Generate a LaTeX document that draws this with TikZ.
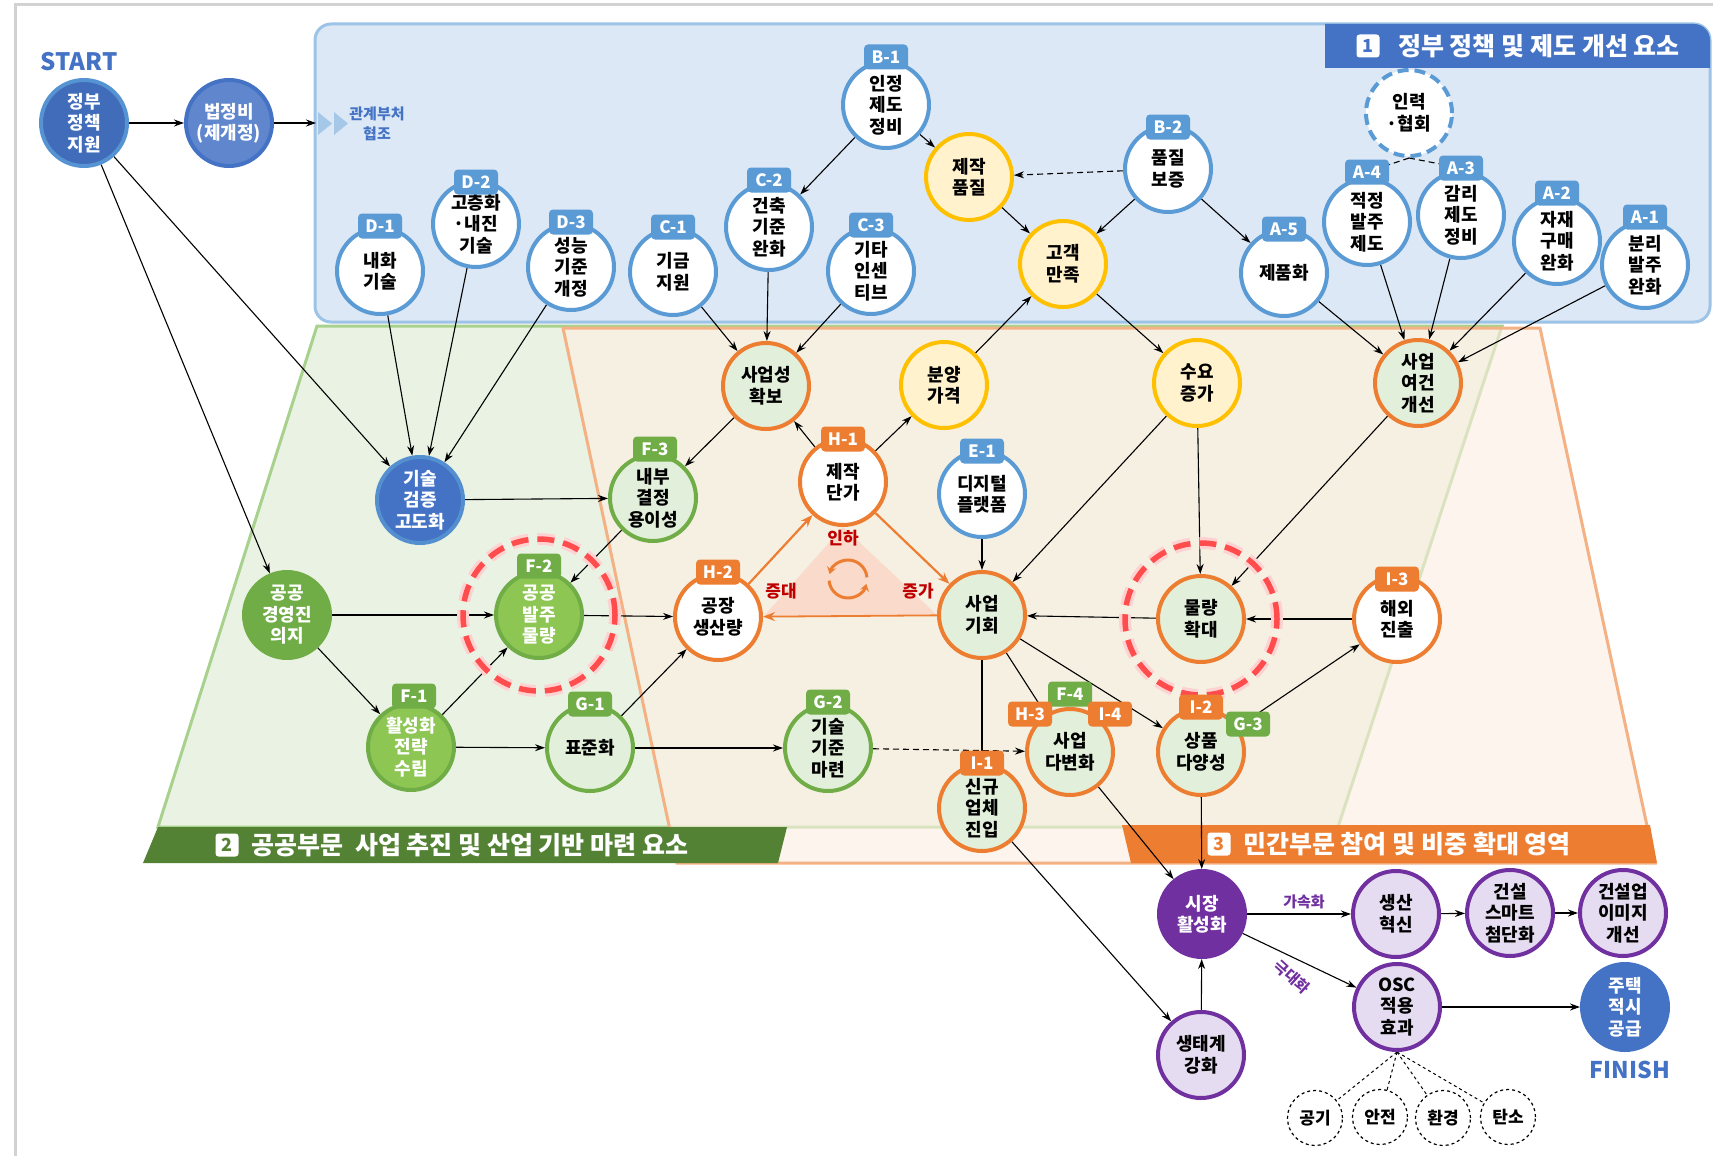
\documentclass[tikz,border=0pt]{standalone}
\usepackage{fontspec}
\setmainfont{Noto Sans CJK KR}
\usetikzlibrary{arrows.meta}
\pgfdeclarelayer{bg}
\pgfdeclarelayer{edges}
\pgfsetlayers{bg,edges,main}
\definecolor{cB}{HTML}{5B9BD5}
\definecolor{cBd}{HTML}{4472C4}
\definecolor{cBg}{HTML}{DCE8F5}
\definecolor{cBl}{HTML}{9DC3E6}
\definecolor{cG}{HTML}{70AD47}
\definecolor{cGd}{HTML}{548235}
\definecolor{cGl}{HTML}{8DC653}
\definecolor{cLG}{HTML}{E2EFDA}
\definecolor{cGbg}{HTML}{EAF3E3}
\definecolor{cGline}{HTML}{A9D18E}
\definecolor{cO}{HTML}{ED7D31}
\definecolor{cObg}{HTML}{FDEEE2}
\definecolor{cOline}{HTML}{F4B183}
\definecolor{cY}{HTML}{FFC000}
\definecolor{cLY}{HTML}{FFF2CC}
\definecolor{cP}{HTML}{7030A0}
\definecolor{cLP}{HTML}{E6DCF1}
\definecolor{cR}{HTML}{FF4D4D}
\definecolor{cRed}{HTML}{C00000}
\definecolor{cPink}{HTML}{FADACA}
\begin{document}
\begin{tikzpicture}[x=1pt,y=-1pt,
  nd/.style={circle,minimum size=86pt,inner sep=0pt,align=center,line width=4pt,font=\fontsize{18}{21.5}\selectfont\bfseries,text=black},
  bnode/.style={nd,draw=cB,fill=white},
  onode/.style={nd,draw=cO,fill=cLG},
  ownode/.style={nd,draw=cO,fill=white},
  gnode/.style={nd,draw=cG,fill=cLG},
  gsolid/.style={nd,draw=cG,fill=cGl,text=white},
  ynode/.style={nd,draw=cY,fill=cLY},
  pnode/.style={nd,draw=cP,fill=cLP},
  tabbox/.style={rounded corners=4pt,minimum width=44pt,minimum height=25pt,inner sep=1pt,text=white,font=\fontsize{17}{17}\selectfont\bfseries},
  btab/.style={tabbox,fill=cB}, otab/.style={tabbox,fill=cO}, gtab/.style={tabbox,fill=cG},
  arr/.style={-{Stealth[length=10pt,width=7pt]},line width=1.1pt},
  oarr/.style={-{Stealth[length=12pt,width=9pt]},line width=2.2pt,draw=cO},
  smallc/.style={circle,draw,dashed,line width=1.2pt,minimum size=55pt,inner sep=0pt,fill=white,font=\fontsize{17}{20}\selectfont\bfseries},
  hlc/.style={circle,draw=cR,line width=5.5pt,dash pattern=on 17pt off 9pt,minimum size=152pt},
  badge/.style={fill=white,rounded corners=3pt,minimum size=23pt,inner sep=0pt,font=\fontsize{18}{18}\selectfont\bfseries},
  ttl/.style={text=white,font=\fontsize{25}{25}\selectfont\bfseries,inner sep=0pt}
]
\useasboundingbox (0,0) rectangle (1713,1156);
\begin{pgfonlayer}{bg}
\fill[white] (0,0) rectangle (1713,1156);
\draw[gray!35,line width=3pt] (15,1156) -- (15,5) -- (1713,5);
\draw[fill=cBg,draw=cBl,line width=3pt,rounded corners=16pt] (315,24) rectangle (1710,322);
\fill[cBd] (1325,24) -- (1694,24) arc[start angle=-90,end angle=0,radius=16] -- (1710,68) -- (1325,68) -- cycle;
\draw[fill=cGbg,draw=cGline,line width=3pt] (317,326) -- (1502,326) -- (1338,827) -- (158,827) -- cycle;
\draw[fill=cObg,fill opacity=0.6,draw=cOline,line width=3pt] (563,328) -- (1540,328) -- (1655,863) -- (677,863) -- cycle;
\fill[cGd] (158,827) -- (787,827) -- (778,863) -- (143,863) -- cycle;
\fill[cO] (1122,825) -- (1650,825) -- (1657,863) -- (1131,863) -- cycle;
\fill[cB!55] (318,112) -- (332,123.5) -- (318,135) -- cycle;
\fill[cB!55] (334,112) -- (348,123.5) -- (334,135) -- cycle;
\end{pgfonlayer}

% titles
\node[badge,text=cBd] (bd1) at (1368,46) {1};
\node[ttl] (t1) at (1539,46) {정부 정책 및 제도 개선 요소};
\node[badge,text=cGd] (bd2) at (227,845) {2};
\node[ttl] (t2) at (470,845) {공공부문\ \ 사업 추진 및 산업 기반 마련 요소};
\node[badge,text=cO] (bd3) at (1219,844) {3};
\node[ttl] (t3) at (1407,844) {민간부문 참여 및 비중 확대 영역};
\node[text=cBd,font=\fontsize{24}{24}\selectfont\bfseries] (start) at (79,62) {START};
\node[text=cBd,font=\fontsize{23}{23}\selectfont\bfseries] (finish) at (1630,1070) {FINISH};
\node[text=cBd,align=center,font=\fontsize{15}{20}\selectfont\bfseries] (coop) at (377,124) {관계부처\\협조};
\coordinate (boxL) at (316,123);

% start nodes
\node[nd,fill=cBd!95!black,draw=cB!80!cBd,text=white] (gov) at (84,123) {정부\\정책\\지원};
\node[nd,fill=cBd!85!white,draw=cBd,text=white] (law) at (229,123) {법정비\\(제개정)};

% section 1
\node[bnode] (b1) at (886,105) {인정\\제도\\정비};
\node[bnode] (d1) at (380,271) {내화\\기술};
\node[bnode] (d2) at (476,224) {고층화\\·내진\\기술};
\node[bnode] (d3) at (571,267) {성능\\기준\\개정};
\node[bnode] (c1) at (673,272) {기금\\지원};
\node[bnode] (c2) at (769,227) {건축\\기준\\완화};
\node[bnode] (c3) at (871,271) {기타\\인센\\티브};
\node[ynode] (qual) at (969,177) {제작\\품질};
\node[bnode] (b2) at (1168,169) {품질\\보증};
\node[ynode] (sat) at (1063,264) {고객\\만족};
\node[bnode] (a5) at (1284,273) {제품화};
\node[bnode,dash pattern=on 11pt off 6pt] (inr) at (1409,113) {인력\\·협회};
\node[bnode] (a4) at (1367,222) {적정\\발주\\제도};
\node[bnode] (a3) at (1461,215) {감리\\제도\\정비};
\node[bnode] (a2) at (1557,241) {자재\\구매\\완화};
\node[bnode] (a1) at (1645,265) {분리\\발주\\완화};

% middle
\node[onode] (profit) at (766,386) {사업성\\확보};
\node[ynode] (price) at (944,385) {분양\\가격};
\node[ynode] (demand) at (1197,383) {수요\\증가};
\node[onode] (cond) at (1418,383) {사업\\여건\\개선};
\node[gnode] (f3) at (653,498) {내부\\결정\\용이성};
\node[ownode] (h1) at (843,482) {제작\\단가};
\node[bnode] (e1) at (982,494) {디지털\\플랫폼};
\node[nd,fill=cBd,draw=cB!70!cBd,text=white] (tech) at (420,500) {기술\\검증\\고도화};
\node[nd,fill=cG,draw=cG,text=white] (will) at (287,615) {공공\\경영진\\의지};
\node[gsolid] (f2) at (539,615) {공공\\발주\\물량};
\node[ownode] (h2) at (718,617) {공장\\생산량};
\node[onode] (biz) at (982,615) {사업\\기회};
\node[onode] (vol) at (1201,619) {물량\\확대};
\node[ownode] (i3) at (1397,619) {해외\\진출};
\node[gsolid] (f1) at (411,747) {활성화\\전략\\수립};
\node[gnode] (g1) at (590,748) {표준화};
\node[gnode] (g2) at (828,748) {기술\\기준\\마련};
\node[onode] (div) at (1070,752) {사업\\다변화};
\node[onode] (i1) at (982,808) {신규\\업체\\진입};
\node[onode] (i2) at (1201,752) {상품\\다양성};

% bottom
\node[nd,fill=cP,draw=cP,text=white] (mkt) at (1202,914) {시장\\활성화};
\node[pnode] (prod) at (1396,914) {생산\\혁신};
\node[pnode] (smart) at (1510,913) {건설\\스마트\\첨단화};
\node[pnode] (image) at (1623,913) {건설업\\이미지\\개선};
\node[pnode] (osc) at (1397,1007) {OSC\\적용\\효과};
\node[nd,fill=cBd,draw=cBd,text=white] (house) at (1625,1007) {주택\\적시\\공급};
\node[pnode] (eco) at (1201,1055) {생태계\\강화};
\node[smallc] (s1) at (1315,1118) {공기};
\node[smallc] (s2) at (1380,1117) {안전};
\node[smallc] (s3) at (1443,1118) {환경};
\node[smallc] (s4) at (1508,1117) {탄소};

% highlight circles
\node[hlc,draw=cR!25,line width=12pt,dash pattern=on 17pt off 9pt] (hl1g) at (539,615) {};
\node[hlc] (hl1) at (539,615) {};
\node[hlc,draw=cR!25,line width=12pt,dash pattern=on 17pt off 9pt] (hl2g) at (1201,619) {};
\node[hlc] (hl2) at (1201,619) {};

% tabs
\node[btab] (tb1) at (886,57) {B-1};
\node[btab] (td1) at (380,226) {D-1};
\node[btab] (td2) at (476,182) {D-2};
\node[btab] (td3) at (571,222) {D-3};
\node[btab] (tc1) at (673,227) {C-1};
\node[btab] (tc2) at (769,180) {C-2};
\node[btab] (tc3) at (871,225) {C-3};
\node[btab] (tb2) at (1168,127) {B-2};
\node[btab] (ta5) at (1284,229) {A-5};
\node[btab] (ta4) at (1367,172) {A-4};
\node[btab] (ta3) at (1461,168) {A-3};
\node[btab] (ta2) at (1557,193) {A-2};
\node[btab] (ta1) at (1645,217) {A-1};
\node[gtab] (tf3) at (655,449) {F-3};
\node[otab] (th1) at (843,439) {H-1};
\node[btab] (te1) at (982,451) {E-1};
\node[gtab] (tf2) at (539,566) {F-2};
\node[otab] (th2) at (718,572) {H-2};
\node[otab] (ti3) at (1397,579) {I-3};
\node[gtab] (tf1) at (414,696) {F-1};
\node[gtab] (tg1) at (590,704) {G-1};
\node[gtab] (tg2) at (828,702) {G-2};
\node[gtab] (tf4) at (1070,694) {F-4};
\node[otab] (th3) at (1030,714) {H-3};
\node[otab] (ti4) at (1110,714) {I-4};
\node[otab] (ti1) at (982,763) {I-1};
\node[otab] (ti2) at (1201,707) {I-2};
\node[gtab] (tg3) at (1248,724) {G-3};

% labels
\node[text=cRed,font=\fontsize{17}{17}\selectfont\bfseries] (lb1) at (843,538) {인하};
\node[text=cRed,font=\fontsize{17}{17}\selectfont\bfseries] (lb2) at (781,591) {증대};
\node[text=cRed,font=\fontsize{17}{17}\selectfont\bfseries] (lb3) at (918,591) {증가};
\node[text=cP,font=\fontsize{15}{15}\selectfont\bfseries] (lb4) at (1304,902) {가속화};
\node[text=cP,font=\fontsize{15}{15}\selectfont\bfseries,rotate=-42] (lb5) at (1292,977) {극대화};
\coordinate (cyc) at (848,579);

\begin{pgfonlayer}{bg}
\fill[cPink] (h1.south) -- (h2.east) -- (biz.west) -- cycle;
\end{pgfonlayer}

\begin{pgfonlayer}{edges}
\draw[cO,line width=3pt,-{Stealth[length=7pt,width=9pt]}] (cyc) ++(-5:19) arc[start angle=-5,end angle=-165,radius=19];
\draw[cO,line width=3pt,-{Stealth[length=7pt,width=9pt]}] (cyc) ++(175:19) arc[start angle=175,end angle=15,radius=19];
\draw[arr] (gov) -- (law);
\draw[arr] (law) -- (boxL);
\draw[arr] (gov) -- (tech);
\draw[arr] (gov) -- (will);
\draw[arr] (d1) -- (tech);
\draw[arr] (d2) -- (tech);
\draw[arr] (d3) -- (tech);
\draw[arr] (b1) -- (c2);
\draw[arr] (b1) -- (qual);
\draw[arr,dash pattern=on 6pt off 4pt] (b2) -- (qual);
\draw[arr] (b2) -- (sat);
\draw[arr] (b2) -- (a5);
\draw[arr] (qual) -- (sat);
\draw[arr] (c1) -- (profit);
\draw[arr] (c2) -- (profit);
\draw[arr] (c3) -- (profit);
\draw[arr] (price) -- (sat);
\draw[arr] (sat) -- (demand);
\draw[arr] (a5) -- (cond);
\draw[arr] (a4) -- (cond);
\draw[arr] (a3) -- (cond);
\draw[arr] (a2) -- (cond);
\draw[arr] (a1) -- (cond);
\draw[line width=1.1pt,dash pattern=on 6pt off 4pt] (inr.south) -- (ta4);
\draw[line width=1.1pt,dash pattern=on 6pt off 4pt] (inr.south) -- (ta3);
\draw[arr] (profit) -- (f3);
\draw[arr] (h1) -- (profit);
\draw[arr] (h1) -- (price);
\draw[arr] (tech) -- (f3);
\draw[arr] (f3) -- (f2);
\draw[arr] (will) -- (f2);
\draw[arr] (will) -- (f1);
\draw[arr] (f1) -- (f2);
\draw[arr] (f1) -- (g1);
\draw[arr] (f2) -- (h2);
\draw[arr] (g1) -- (h2);
\draw[arr] (g1) -- (g2);
\draw[arr,dash pattern=on 6pt off 4pt] (g2) -- (div);
\draw[arr] (e1) -- (biz);
\draw[arr] (demand) -- (biz);
\draw[arr] (demand) -- (vol);
\draw[arr] (cond) -- (vol);
\draw[arr] (vol) -- (biz);
\draw[arr] (i3) -- (vol);
\draw[arr] (i2) -- (i3);
\draw[arr] (biz) -- (i2);
\draw[arr] (biz) -- (div);
\draw[arr] (biz) -- (i1);
\draw[arr] (i2) -- (mkt);
\draw[arr] (div) -- (mkt);
\draw[arr] (i1) -- (eco);
\draw[arr] (eco) -- (mkt);
\draw[arr] (mkt) -- (prod);
\draw[arr] (mkt) -- (osc);
\draw[arr] (prod) -- (smart);
\draw[arr] (smart) -- (image);
\draw[arr] (osc) -- (house);
\draw[line width=1pt,dashed] (osc.south) -- (s1);
\draw[line width=1pt,dashed] (osc.south) -- (s2);
\draw[line width=1pt,dashed] (osc.south) -- (s3);
\draw[line width=1pt,dashed] (osc.south) -- (s4);
\draw[oarr] (h2) -- (h1);
\draw[oarr] (h1) -- (biz);
\draw[oarr,line width=1.8pt] (biz) -- (h2);
\end{pgfonlayer}
\end{tikzpicture}
\end{document}
